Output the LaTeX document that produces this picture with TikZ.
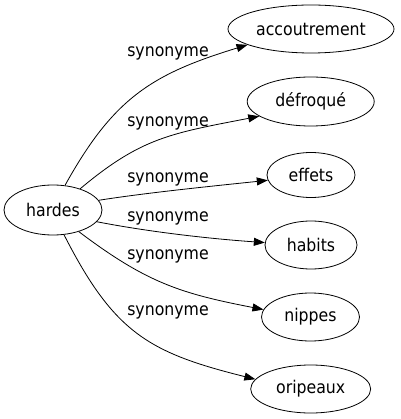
\documentclass[tikz,border=0pt]{standalone}
\usepackage{fontspec}
\setmainfont{DejaVu Sans Condensed}
\usetikzlibrary{shapes.geometric,arrows.meta}
\begin{document}
\begin{tikzpicture}[x=1pt,y=1pt,
  term/.style={ellipse,draw,line width=0.8pt,inner sep=0pt,minimum height=48pt,font=\fontsize{17.5}{20}\selectfont},
  rel/.style={font=\fontsize{17.5}{20}\selectfont,inner sep=0pt},
  edge/.style={line width=0.8pt,-{Triangle[length=11pt,width=8pt]}}]
\useasboundingbox (0,0) rectangle (400,-419);
\node[term,minimum width=98pt,minimum height=50pt] (hardes) at (53,-210) {hardes};
\node[term,minimum width=166pt] (acc) at (311,-29) {accoutrement};
\node[term,minimum width=127pt,minimum height=49pt] (def) at (310.7,-101.5) {défroqué};
\node[term,minimum width=88pt,minimum height=45pt] (eff) at (311,-175) {effets};
\node[term,minimum width=92pt] (hab) at (311,-245) {habits};
\node[term,minimum width=98pt] (nip) at (310.5,-317) {nippes};
\node[term,minimum width=120pt] (ori) at (310.7,-389) {oripeaux};
\node[rel] (l1) at (168,-53.7) {synonyme};
\node[rel] (l2) at (168,-123) {synonyme};
\node[rel] (l3) at (168,-179.7) {synonyme};
\node[rel] (l4) at (168,-218) {synonyme};
\node[rel] (l5) at (168,-256.7) {synonyme};
\node[rel] (l6) at (168,-312.3) {synonyme};
\draw[edge] (hardes.64) .. controls +(61:100) and +(197:100) .. (acc.194);
\draw[edge] (hardes.38) .. controls +(40:80) and +(191:90) .. (def.196);
\draw[edge] (hardes.12) .. controls +(9:50) and +(186:50) .. (eff.187);
\draw[edge] (hardes.-15) .. controls +(-11:50) and +(176:60) .. (hab.177);
\draw[edge] (hardes.-40) .. controls +(-37:85) and +(169:85) .. (nip.171);
\draw[edge] (hardes.-66.5) .. controls +(-63:110) and +(166:110) .. (ori.170);
\end{tikzpicture}
\end{document}
